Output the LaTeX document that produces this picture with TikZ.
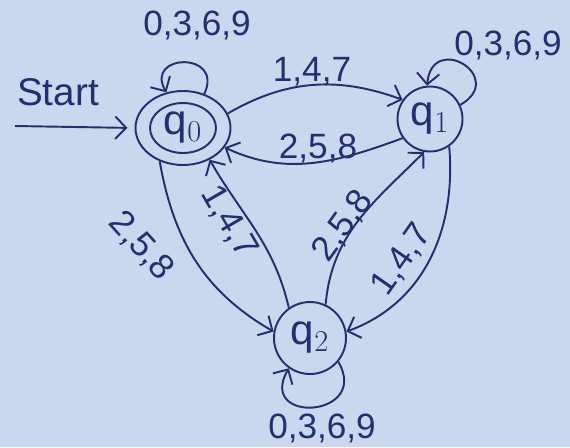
\documentclass[tikz,border=0pt]{standalone}
\usepackage{fontspec}
\setmainfont{Liberation Sans}
\usetikzlibrary{arrows.meta,shapes.geometric}
\definecolor{ink}{HTML}{22306E}
\definecolor{paper}{HTML}{CBD7EE}
\begin{document}
\begin{tikzpicture}[x=0.02cm,y=-0.02cm,
  every node/.style={text=ink},
  edge/.style={draw=ink,line width=1.1pt,-{Straight Barb[length=2.2mm,width=4.5mm]}},
  state/.style={draw=ink,line width=1.1pt,circle,inner sep=0pt,font=\fontsize{24}{28}\selectfont},
  lbl/.style={font=\fontsize{20}{24}\selectfont,inner sep=1pt}]
\fill[paper] (0,0) rectangle (570,447);
\useasboundingbox (0,0) rectangle (570,447);
% states
\node[state,ellipse,minimum width=1.9cm,minimum height=1.48cm] (q0) at (183,128) {q$_0$};
\draw[ink,line width=1.1pt] (q0.center) ellipse [x radius=0.66cm,y radius=0.5cm];
\node[state,minimum size=1.3cm] (q1) at (430,119) {q$_1$};
\node[state,minimum size=1.44cm] (q2) at (310,338) {q$_2$};
% start
\node[lbl,font=\fontsize{22}{26}\selectfont] (startlbl) at (58,92) {Start};
\coordinate (start) at (15,126);
\draw[edge,shorten >=4pt] (start) -- (q0.west);
% self loops
\draw[edge] (q0.58) .. controls +(65:0.95cm) and +(120:0.9cm) .. (q0.115);
\node[lbl] (l00) at (197,25) {0,3,6,9};
\draw[edge] (q1.25) .. controls +(30:1.1cm) and +(85:1.1cm) .. (q1.95);
\node[lbl] (l11) at (508,45) {0,3,6,9};
\draw[edge] (q2.-40) .. controls +(-60:1.3cm) and +(-120:1.3cm) .. (q2.-125);
\node[lbl] (l22) at (322,428) {0,3,6,9};
% transitions
\draw[edge] (q0.18) to[out=30,in=160] (q1.145);
\node[lbl] (l01) at (312,72) {1,4,7};
\draw[edge] (q1.215) to[out=200,in=-25] (q0.-25);
\node[lbl] (l10) at (318,148) {2,5,8};
\draw[edge] (q0.235) to[out=280,in=150] (q2.170);
\node[lbl,rotate=-48] (l02) at (141,246) {2,5,8};
\draw[edge] (q2.125) to[out=103,in=-60] (q0.-50);
\node[lbl,rotate=-60] (l20) at (229,222) {1,4,7};
\draw[edge] (q2.65) to[out=85,in=225] (q1.260);
\node[lbl,rotate=54] (l21) at (343,226) {2,5,8};
\draw[edge] (q1.-55) to[out=-85,in=20] (q2.10);
\node[lbl,rotate=55] (l12) at (402,260) {1,4,7};
\end{tikzpicture}
\end{document}
